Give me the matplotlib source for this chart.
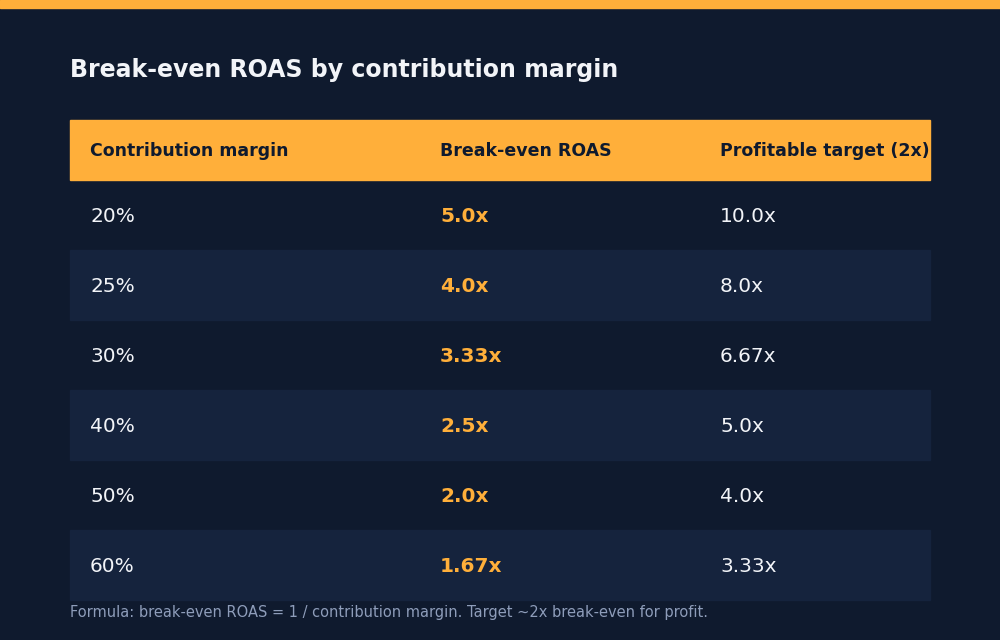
import matplotlib
matplotlib.use("Agg")
import matplotlib.pyplot as plt
from matplotlib.patches import Rectangle

plt.rcParams['font.family'] = ['DejaVu Sans']

title = "Break-even ROAS by contribution margin"
headers = ["Contribution margin", "Break-even ROAS", "Profitable target (2x)"]
margins = ["20%", "25%", "30%", "40%", "50%", "60%"]
breakeven = ["5.0x", "4.0x", "3.33x", "2.5x", "2.0x", "1.67x"]
targets = ["10.0x", "8.0x", "6.67x", "5.0x", "4.0x", "3.33x"]
footer = "Formula: break-even ROAS = 1 / contribution margin. Target ~2x break-even for profit."

BG = "#0F1A2E"; ALT = "#15233D"; ORANGE = "#FFAF3A"; WHITE = "#F2F4F8"; GREY = "#8E9DBA"; DARK = "#0F1A2E"

fig = plt.figure(figsize=(10, 6.4), dpi=100, facecolor=BG)
ax = fig.add_axes([0, 0, 1, 1])
ax.set_xlim(0, 1000); ax.set_ylim(640, 0); ax.axis("off")

ax.add_patch(Rectangle((0, 0), 1000, 8, color=ORANGE))
ax.text(70, 70, title, color=WHITE, fontsize=17, fontweight="bold", va="center", ha="left")

hdr = Rectangle((70, 120), 860, 60, color=ORANGE)
ax.add_patch(hdr)
cols = [90, 440, 720]
for x, h in zip(cols, headers):
    t = ax.text(x, 151, h, color=DARK, fontsize=12.5, fontweight="bold", va="center")
    t.set_clip_path(hdr)

for i in range(len(margins)):
    y0 = 180 + 70 * i
    if i % 2 == 1:
        ax.add_patch(Rectangle((70, y0), 860, 70, color=ALT))
    yc = y0 + 36
    ax.text(cols[0], yc, margins[i], color=WHITE, fontsize=14.5, va="center")
    ax.text(cols[1], yc, breakeven[i], color=ORANGE, fontsize=14.5, fontweight="bold", va="center")
    ax.text(cols[2], yc, targets[i], color=WHITE, fontsize=14.5, va="center")

ax.text(70, 613, footer, color=GREY, fontsize=10.5, va="center")
fig.savefig("out.png", dpi=100, facecolor=BG)
